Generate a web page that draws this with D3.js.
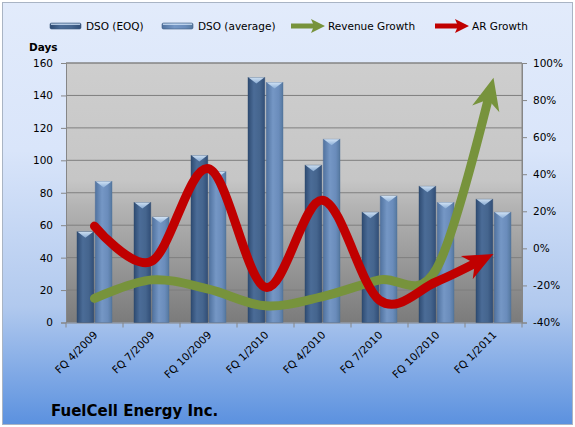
<!DOCTYPE html>
<html>
<head>
<meta charset="utf-8">
<script src="https://cdn.jsdelivr.net/npm/d3@7"></script>
<style>
    body { margin: 0; background: #fff; }
    text { font-family: "DejaVu Sans", sans-serif; fill: #000; }
</style>
</head>
<body>
<div id="chart"></div>
<script>
// chart data
const categories = ["FQ 4/2009", "FQ 7/2009", "FQ 10/2009", "FQ 1/2010", "FQ 4/2010", "FQ 7/2010", "FQ 10/2010", "FQ 1/2011"];
const dsoEoq = [56, 74, 103, 151, 97, 68, 84, 76];
const dsoAvg = [87, 65, 93, 148, 113, 78, 74, 68];
const revenueGrowth = [-27, -17, -22, -31, -26, -17, -11, 92];
const arGrowth = [12, -7, 43, -21, 26, -28, -18, -3];
const leftTicks = [0, 20, 40, 60, 80, 100, 120, 140, 160];
const rightTicks = [-40, -20, 0, 20, 40, 60, 80, 100];

const W = 575, H = 427;
const plot = {left: 66, right: 522, top: 63, bottom: 322.5};

let svg = d3.select("#chart").append("svg")
    .attr("width", W)
    .attr("height", H);

let defs = svg.append("defs");

function linGrad(id, stops, horizontal) {
    let g = defs.append("linearGradient").attr("id", id)
        .attr("x1", 0).attr("y1", 0)
        .attr("x2", horizontal ? 1 : 0).attr("y2", horizontal ? 0 : 1);
    stops.forEach(s => g.append("stop").attr("offset", s[0]).attr("stop-color", s[1]));
}

linGrad("bgGrad", [[0, "#e2ebfb"], [0.35, "#d9e5fa"], [0.72, "#b1c9ee"], [1, "#5b91df"]]);
linGrad("plotGrad", [[0, "#cecece"], [0.45, "#c6c6c6"], [0.55, "#b4b4b4"], [1, "#7b7b7b"]]);
linGrad("eoqGrad", [[0, "#2e4b72"], [0.35, "#4b6c97"], [0.7, "#45658e"], [1, "#314e77"]], true);
linGrad("avgGrad", [[0, "#50729f"], [0.4, "#7597c5"], [0.75, "#6a8cbb"], [1, "#55789f"]], true);
linGrad("capGrad", [[0, "#dcecfb"], [1, "#8fb2da"]]);

// background
svg.append("rect")
    .attr("x", 2.5).attr("y", 2.5)
    .attr("width", W - 5).attr("height", H - 5)
    .attr("fill", "url(#bgGrad)")
    .attr("stroke", "#a9b4c4");

svg.append("rect")
    .attr("x", plot.left).attr("y", plot.top)
    .attr("width", plot.right - plot.left).attr("height", plot.bottom - plot.top)
    .attr("fill", "url(#plotGrad)");

// scales
let x = d3.scaleBand().domain(categories).range([plot.left, plot.right]);
let xInner = d3.scaleBand().domain(["eoq", "avg"]).range([11, x.bandwidth() - 11]).paddingInner(0.08);
let yLeft = d3.scaleLinear().domain([0, 160]).range([plot.bottom, plot.top]);
let yRight = d3.scaleLinear().domain([-40, 100]).range([plot.bottom, plot.top]);

// gridlines
svg.append("g")
    .selectAll("line")
    .data(leftTicks.slice(1))
    .enter().append("line")
    .attr("x1", plot.left).attr("x2", plot.right)
    .attr("y1", d => yLeft(d)).attr("y2", d => yLeft(d))
    .attr("stroke", "#7f7f7f").attr("stroke-width", 1);

// axes
let leftAxis = svg.append("g")
    .attr("transform", `translate(${plot.left}, 0)`)
    .call(d3.axisLeft(yLeft).tickValues(leftTicks).tickSize(5).tickPadding(8));

let rightAxis = svg.append("g")
    .attr("transform", `translate(${plot.right}, 0)`)
    .call(d3.axisRight(yRight).tickValues(rightTicks).tickSize(5).tickPadding(6).tickFormat(d => d + "%"));

let bottomAxis = svg.append("g")
    .attr("transform", `translate(0, ${plot.bottom})`)
    .call(d3.axisBottom(x).tickSize(0).tickFormat(""));

[leftAxis, rightAxis, bottomAxis].forEach(a => {
    a.select(".domain").attr("stroke", "#868686");
    a.selectAll(".tick line").attr("stroke", "#868686");
    a.selectAll("text").attr("font-size", "10.5px").attr("font-family", "DejaVu Sans, sans-serif").attr("fill", "#000");
});

// category boundary ticks
svg.append("g")
    .selectAll("line")
    .data(categories.concat(["end"]))
    .enter().append("line")
    .attr("x1", (d, i) => plot.left + i * x.step())
    .attr("x2", (d, i) => plot.left + i * x.step())
    .attr("y1", plot.bottom).attr("y2", plot.bottom + 5)
    .attr("stroke", "#868686");

// category labels
svg.append("g")
    .selectAll("text")
    .data(categories)
    .enter().append("text")
    .attr("transform", d => `translate(${x(d) + x.bandwidth() / 2 + 1}, 333) rotate(-45)`)
    .attr("text-anchor", "end")
    .attr("dy", "0.35em")
    .attr("font-size", "10.5px")
    .text(d => d);

// bars
let series = [
    {key: "eoq", values: dsoEoq, fill: "url(#eoqGrad)", stroke: "#2c476c"},
    {key: "avg", values: dsoAvg, fill: "url(#avgGrad)", stroke: "#4d6e99"}
];

series.forEach(s => {
    let g = svg.append("g").selectAll("g")
        .data(s.values)
        .enter().append("g")
        .attr("transform", (d, i) => `translate(${x(categories[i]) + xInner(s.key)}, 0)`);

    g.append("rect")
        .attr("x", 0)
        .attr("y", d => yLeft(d))
        .attr("width", xInner.bandwidth())
        .attr("height", d => yLeft(0) - yLeft(d))
        .attr("fill", s.fill)
        .attr("stroke", s.stroke)
        .attr("stroke-opacity", 0.5)
        .attr("stroke-width", 0.8);

    g.append("path")
        .attr("d", d => {
            let y0 = yLeft(d), w = xInner.bandwidth();
            return `M0.5,${y0}L${w - 0.5},${y0}L${w / 2},${y0 + 6}Z`;
        })
        .attr("fill", "url(#capGrad)")
        .attr("opacity", 0.9);
});

// growth lines with arrow heads
let line = d3.line()
    .x((d, i) => x(categories[i]) + x.bandwidth() / 2)
    .y(d => yRight(d))
    .curve(d3.curveCardinal.tension(0));

function drawArrowLine(values, color, width, headLen, headW) {
    let g = svg.append("g");
    let path = g.append("path")
        .attr("d", line(values))
        .attr("fill", "none")
        .attr("stroke", color)
        .attr("stroke-width", width)
        .attr("stroke-linecap", "round")
        .attr("stroke-linejoin", "round");
    let node = path.node();
    let len = node.getTotalLength();
    path.attr("stroke-dasharray", `${len - headLen * 0.6} ${len}`);
    let end = node.getPointAtLength(len);
    let back = node.getPointAtLength(len - headLen);
    let angle = Math.atan2(end.y - back.y, end.x - back.x) * 180 / Math.PI;
    g.append("path")
        .attr("d", `M0,0L${-headLen},${-headW / 2}L${-headLen * 0.7},0L${-headLen},${headW / 2}Z`)
        .attr("fill", color)
        .attr("transform", `translate(${end.x}, ${end.y}) rotate(${angle})`);
}

drawArrowLine(revenueGrowth, "#77933c", 9, 32, 28);
drawArrowLine(arGrowth, "#c00000", 9, 30, 26);

// plot border (top + right)
svg.append("path")
    .attr("d", `M${plot.left},${plot.top}H${plot.right}V${plot.bottom}`)
    .attr("fill", "none")
    .attr("stroke", "#868686");

// axis title
svg.append("text")
    .attr("x", 29).attr("y", 51)
    .attr("font-size", "10.5px")
    .attr("font-weight", "bold")
    .text("Days");

// legend
let legendY = 26;
let legendItems = [
    {label: "DSO (EOQ)", type: "bar", fill: "url(#eoqGrad)", x: 50},
    {label: "DSO (average)", type: "bar", fill: "url(#avgGrad)", x: 162},
    {label: "Revenue Growth", type: "arrow", fill: "#77933c", x: 291},
    {label: "AR Growth", type: "arrow", fill: "#c00000", x: 435}
];

let legend = svg.append("g")
    .selectAll("g")
    .data(legendItems)
    .enter().append("g")
    .attr("transform", d => `translate(${d.x}, ${legendY})`);

legend.filter(d => d.type === "bar").append("rect")
    .attr("x", 0).attr("y", -3)
    .attr("width", 31).attr("height", 6)
    .attr("rx", 1.5)
    .attr("fill", d => d.fill)
    .attr("stroke", "#3d5a82")
    .attr("stroke-width", 0.6);

legend.filter(d => d.type === "bar").append("rect")
    .attr("x", 1).attr("y", -2.5)
    .attr("width", 29).attr("height", 1.5)
    .attr("fill", "#cfe2f7")
    .attr("opacity", 0.8);

legend.filter(d => d.type === "arrow").append("line")
    .attr("x1", 0).attr("x2", 24)
    .attr("y1", 0).attr("y2", 0)
    .attr("stroke", d => d.fill)
    .attr("stroke-width", 5);

legend.filter(d => d.type === "arrow").append("path")
    .attr("d", "M34,0L20,-7L23,0L20,7Z")
    .attr("fill", d => d.fill);

legend.append("text")
    .attr("x", d => d.type === "bar" ? 36 : 37)
    .attr("y", 0)
    .attr("dy", "0.35em")
    .attr("font-size", "10.5px")
    .text(d => d.label);

// company title
svg.append("text")
    .attr("x", 51).attr("y", 416)
    .attr("font-family", "Lato, sans-serif")
    .attr("font-size", "15px")
    .attr("font-weight", "bold")
    .text("FuelCell Energy Inc.");
</script>
</body>
</html>
